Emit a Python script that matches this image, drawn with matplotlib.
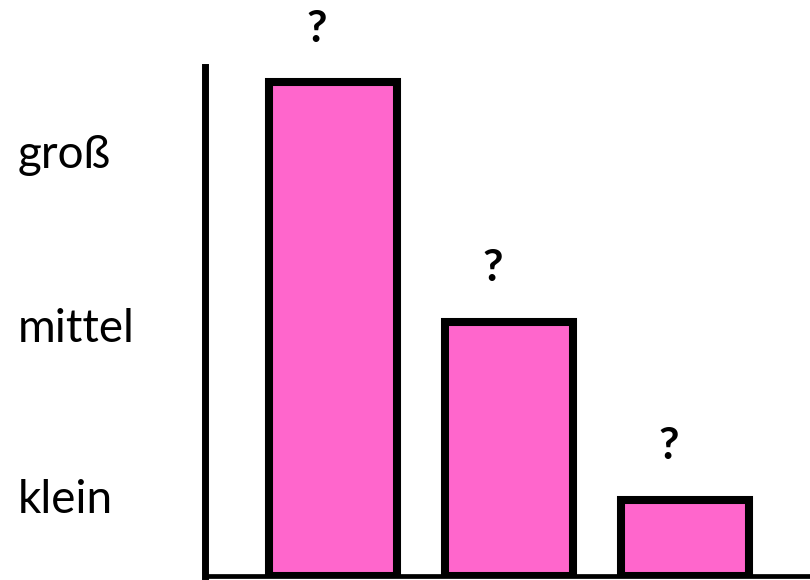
import matplotlib.pyplot as plt
from matplotlib.transforms import blended_transform_factory

plt.rcParams['font.family'] = ['Lato', 'DejaVu Sans']

bar_positions = [0, 1, 2]
bar_values = [9.7, 5.0, 1.5]
bar_labels = ['?', '?', '?']

level_names = ['groß', 'mittel', 'klein']
level_values = [8.02, 4.6, 1.24]

fig = plt.figure(figsize=(8.1, 5.8), dpi=100)
ax = fig.add_axes([205 / 810, (580 - 576) / 580, (810 - 205) / 810, (576 - 67) / 580])

ax.bar(bar_positions, bar_values, width=0.727, color='#FF66CC',
       edgecolor='black', linewidth=5.8, zorder=2)

for x, v, t in zip(bar_positions, bar_values, bar_labels):
    ax.annotate(t, (x, v), xytext=(-12, 29), textcoords='offset points',
                ha='center', va='baseline', fontsize=32, fontweight='bold')

# level names on the left
trans = blended_transform_factory(fig.transFigure, ax.transData)
for name, v in zip(level_names, level_values):
    ax.text(18 / 810, v, name, transform=trans, ha='left', va='baseline',
            fontsize=33, clip_on=False)

ax.set_xlim(-0.727, 2.707)
ax.set_ylim(0, 10)
ax.set_xticks([])
ax.set_yticks([])
ax.spines['top'].set_visible(False)
ax.spines['right'].set_visible(False)
ax.spines['left'].set_linewidth(5)
ax.spines['bottom'].set_linewidth(3.4)

fig.savefig('out.png', dpi=100)
